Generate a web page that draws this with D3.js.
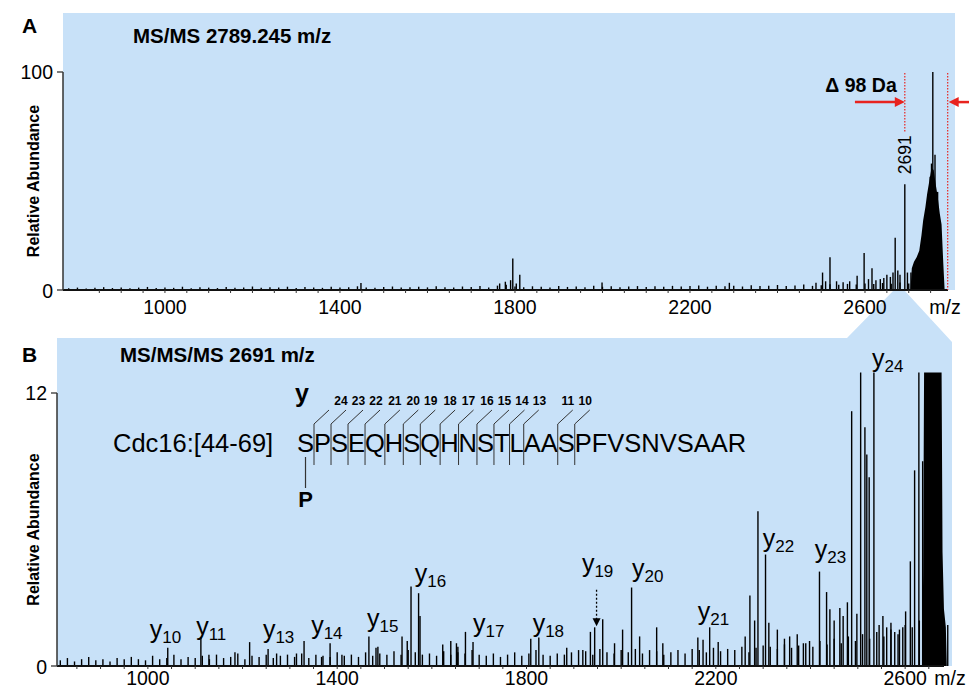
<!DOCTYPE html>
<html>
<head>
<meta charset="utf-8">
<script src="https://cdn.jsdelivr.net/npm/d3@7"></script>
<style>
  body { margin: 0; background: #fff; }
  svg { display: block; font-family: "Liberation Sans", Arial, sans-serif; }
</style>
</head>
<body>
<div id="chart"></div>
<script>
// ---- data ----
const tickLabelsA = [1000, 1400, 1800, 2200, 2600];
const tickLabelsB = [1000, 1400, 1800, 2200, 2600];

// panel A: MS/MS of 2789.245 (m/z, relative abundance %)
const noiseStartA = 780, noiseStepA = 20;
const noiseA = [
  0.8,1.1,0.7,1.0,1.3,0.9,1.2,0.8,1.1,1.4,
  0.9,1.2,1.0,1.5,0.8,1.3,1.1,0.9,1.4,1.0,
  1.2,1.6,1.0,1.3,1.1,1.5,0.9,1.4,1.2,1.0,
  1.5,1.1,1.3,1.7,1.2,1.0,1.4,1.6,1.1,1.3,
  1.5,1.2,1.7,1.3,1.1,1.6,1.4,1.8,1.2,2.0,
  2.4,1.6,1.3,1.7,1.5,1.2,1.8,1.4,1.6,1.3,
  1.9,1.5,1.7,1.3,1.6,1.8,1.4,1.7,1.5,1.9,
  1.6,1.8,2.1,1.5,1.9,1.7,2.0,1.6,2.2,1.8,
  2.0,2.3,1.8,2.1,2.5,1.9,2.2,2.6,2.4,2.8,
  2.5,3.0,2.7,3.2,2.9,3.4,3.0
];
const peaksA = [
  [1448,3.2],[1765,3],[1778,3.8],[1790,4.5],[1795,14.5],[1803,3],[1811,7],[1999,3.4],
  [2290,3.3],[2488,3.3],[2503,8],[2510,4],[2520,15],[2535,4],[2550,3.5],[2565,4],
  [2582,6.5],[2598,17],[2608,5],[2616,10],[2625,4.5],[2635,5],[2643,5.5],[2650,7],
  [2658,6],[2664,8],[2669,24],[2675,9],[2680,7],[2691,48.5],[2697,8],[2705,8],
  [2749,52],[2752,58],[2755,100],[2760,62],[2766,45]
];
const humpA = [
  [2704,0],[2707,10],[2712,13],[2718,15],[2724,18],[2729,25],[2733,32],[2738,38],
  [2742,44],[2747,50],[2752,56],[2757,55],[2762,48],[2766,43],[2771,35],[2775,30],
  [2779,12],[2782,0]
];

// panel B: MS/MS/MS of 2691 (m/z, relative abundance)
const noiseStartB = 815, noiseStepB = 15;
const noiseB = [
  0.25,0.35,0.2,0.3,0.4,0.25,0.3,0.2,0.35,0.3,
  0.4,0.3,0.25,0.45,0.3,0.35,0.5,0.3,0.4,0.35,
  0.45,0.3,0.5,0.35,0.4,0.55,0.3,0.45,0.4,0.5,
  0.35,0.45,0.5,0.4,0.55,0.35,0.5,0.45,0.4,0.6,
  0.45,0.5,0.4,0.6,0.45,0.55,0.5,0.65,0.5,0.7,
  0.6,0.5,0.55,0.45,0.65,0.5,0.6,0.55,0.7,0.5,
  0.45,0.55,0.4,0.5,0.6,0.45,0.55,0.7,0.5,0.45,
  0.55,0.5,0.6,0.7,0.65,0.5,0.75,0.6,0.55,0.7,
  0.6,0.75,0.55,0.7,0.65,0.5,0.6,0.7,0.55,0.75,
  0.7,0.6,0.8,0.65,0.75,0.7,0.85,0.6,0.8,0.9,
  0.85,0.75,0.95,0.8,0.9,1.0,0.85,1.1,0.95,1.2,
  1.0,1.3,1.1,1.4,1.2,1.5,1.3,1.6,1.4,1.8,
  1.7,2.0,1.9,2.2,2.0,1.8
];
const peaksB = [
  [1042,0.8],[1112,1.27],[1129,0.5],[1184,0.6],[1215,1.05],[1254,0.75],[1272,0.55],
  [1314,0.55],[1330,1.1],[1367,0.4],[1385,1.0],[1410,0.5],[1467,1.3],[1482,0.8],
  [1486,0.85],[1537,1.3],[1548,1.1],[1556,3.5],[1572,3.2],[1575,2.2],[1623,0.95],
  [1640,1.1],[1652,1.0],[1655,0.85],[1671,1.5],[1687,1.05],[1809,1.2],[1826,1.25],
  [1885,0.8],[1919,0.7],[1935,1.5],[1944,1.7],[1961,2.05],[1986,1.0],[2003,1.6],
  [2022,3.45],[2039,1.3],[2075,1.7],[2088,1.0],[2162,1.25],[2173,1.15],[2187,1.7],
  [2205,1.05],[2262,1.3],[2272,3.1],[2282,2.0],[2289,6.8],[2305,4.9],[2312,1.9],
  [2330,1.6],[2345,1.2],[2356,1.3],[2372,1.4],[2385,1.0],[2398,1.1],[2419,4.15],
  [2434,3.25],[2441,2.5],[2450,2.0],[2462,2.55],[2469,2.2],[2478,2.8],[2487,11.2],
  [2498,2.3],[2506,12.9],[2515,10.5],[2519,9.3],[2524,8.3],[2534,12.9],[2545,1.8],
  [2553,2.2],[2561,1.7],[2570,1.9],[2578,1.5],[2588,1.6],[2595,1.7],[2601,2.4],
  [2611,4.6],[2620,8.6],[2629,12.9],[2637,9]
];
const blockB = [[2636,0],[2638,4],[2640,12.9],[2677,12.9],[2679,5],[2682,2.5],[2686,1.7],[2688,0]];

// y-ion labels: [number, m/z of label start, abundance of label baseline]
const ionLabels = [
  ["10",1004,1.23],["11",1102,1.36],["13",1243,1.23],["14",1345,1.41],["15",1463,1.71],
  ["16",1564,3.69],["17",1687,1.49],["18",1813,1.49],["19",1917,4.13],["20",2023,3.91],
  ["21",2162,2.02],["22",2299,5.23],["23",2409,4.75],["24",2530,13.14]
];

const peptide = "SPSEQHSQHNSTLAASPFVSNVSAAR";
const fragIons = [24,23,22,21,20,19,18,17,16,15,14,13,11,10];
const bondMarks = [25,24,23,22,21,20,19,18,17,16,15,14,13,11,10];

// ---- drawing ----
const blue = "#c8e1f8";
const red = "#e8231f";
const svg = d3.select("#chart").append("svg").attr("width", 969).attr("height", 690);

const xA = d3.scaleLinear().domain([767, 2808]).range([63, 956]);
const yA = d3.scaleLinear().domain([0, 100]).range([290, 72]);
const xB = d3.scaleLinear().domain([808, 2699]).range([57, 952]);
const yB = d3.scaleLinear().domain([0, 12]).range([666, 393]);

// backgrounds
svg.append("rect").attr("x", 63).attr("y", 13).attr("width", 892).attr("height", 277).attr("fill", blue);
svg.append("polygon")
  .attr("points", [[57,338],[847,338],[893,291],[905,291],[952,342],[952,666],[57,666]].join(" "))
  .attr("fill", blue);

function spectrum(g, x, y, noiseStart, noiseStep, noise, peaks) {
  const sticks = noise.map((v, i) => [noiseStart + i * noiseStep, v]).concat(peaks);
  g.selectAll("line.pk").data(sticks).join("line")
    .attr("class", "pk")
    .attr("x1", d => x(d[0])).attr("x2", d => x(d[0]))
    .attr("y1", y(0)).attr("y2", d => y(d[1]))
    .attr("stroke", "#000").attr("stroke-width", 1.4);
}

function axes(g, x, y, ticks, yTop, yTopLabel, labelY, mzX) {
  const y0 = y(0);
  g.append("line").attr("x1", x.range()[0]).attr("x2", x.range()[1] - 8)
    .attr("y1", y0).attr("y2", y0).attr("stroke", "#111").attr("stroke-width", 2.2);
  g.append("line").attr("x1", x.range()[0]).attr("x2", x.range()[0])
    .attr("y1", y(yTop)).attr("y2", y0).attr("stroke", "#333").attr("stroke-width", 1.5);
  [0, yTop].forEach(v => {
    g.append("line").attr("x1", x.range()[0] - 6).attr("x2", x.range()[0])
      .attr("y1", y(v)).attr("y2", y(v)).attr("stroke", "#333").attr("stroke-width", 1.3);
  });
  g.append("text").attr("x", x.range()[0] - 10).attr("y", y(yTop) + 7)
    .attr("text-anchor", "end").attr("font-size", 19.5).text(yTopLabel);
  g.append("text").attr("x", x.range()[0] - 10).attr("y", y0 + 8)
    .attr("text-anchor", "end").attr("font-size", 19.5).text("0");
  const minor = d3.range(850, x.domain()[1] - 20, 50);
  g.selectAll("line.mt").data(minor).join("line").attr("class", "mt")
    .attr("x1", d => x(d)).attr("x2", d => x(d))
    .attr("y1", y0).attr("y2", y0 + 3).attr("stroke", "#333").attr("stroke-width", 1);
  g.selectAll("text.tl").data(ticks).join("text").attr("class", "tl")
    .attr("x", d => x(d)).attr("y", labelY).attr("text-anchor", "middle")
    .attr("font-size", 19.5).text(d => d);
  g.append("text").attr("x", mzX).attr("y", labelY).attr("text-anchor", "middle")
    .attr("font-size", 19.5).text("m/z");
  g.append("text")
    .attr("transform", `translate(39,${(y(yTop) + y0) / 2}) rotate(-90)`)
    .attr("text-anchor", "middle").attr("font-size", 16).attr("font-weight", "bold")
    .text("Relative Abundance");
}

// ---- panel A ----
const gA = svg.append("g");
gA.append("path").datum(humpA)
  .attr("d", d3.area().x(d => xA(d[0])).y0(yA(0)).y1(d => yA(d[1])))
  .attr("fill", "#000");
spectrum(gA, xA, yA, noiseStartA, noiseStepA, noiseA, peaksA);
axes(gA, xA, yA, tickLabelsA, 100, "100", 314, 945);

gA.append("text").attr("x", 22).attr("y", 33).attr("font-size", 21).attr("font-weight", "bold").text("A");
gA.append("text").attr("x", 133).attr("y", 43).attr("font-size", 20.5).attr("font-weight", "bold")
  .text("MS/MS 2789.245 m/z");

// dotted markers and the 98 Da arrows
const x2691 = xA(2691), xPrec = xA(2789);
gA.append("line").attr("x1", x2691).attr("x2", x2691).attr("y1", yA(99.5)).attr("y2", yA(72))
  .attr("stroke", red).attr("stroke-width", 1.2).attr("stroke-dasharray", "1.5,1.5");
gA.append("line").attr("x1", xPrec).attr("x2", xPrec).attr("y1", yA(99.5)).attr("y2", yA(0))
  .attr("stroke", red).attr("stroke-width", 1.2).attr("stroke-dasharray", "1.5,1.5");
gA.append("text")
  .attr("transform", `translate(${x2691 + 6},${yA(62)}) rotate(-90)`)
  .attr("text-anchor", "middle").attr("font-size", 17.5).text("2691");
gA.append("text").attr("x", x2691 - 8).attr("y", yA(91)).attr("text-anchor", "end")
  .attr("font-size", 19.5).attr("font-weight", "bold").text("\u0394 98 Da");

const arrowY = yA(86.2);
gA.append("line").attr("x1", xA(2577)).attr("x2", x2691 - 8).attr("y1", arrowY).attr("y2", arrowY)
  .attr("stroke", red).attr("stroke-width", 2.5);
gA.append("path").attr("d", `M${x2691},${arrowY} l-10,-5 l0,10 z`).attr("fill", red);
gA.append("line").attr("x1", 969).attr("x2", xPrec + 8).attr("y1", arrowY).attr("y2", arrowY)
  .attr("stroke", red).attr("stroke-width", 2.5);
gA.append("path").attr("d", `M${xPrec + 1},${arrowY} l10,-5 l0,10 z`).attr("fill", red);

// ---- panel B ----
const gB = svg.append("g");
gB.append("path").datum(blockB)
  .attr("d", d3.area().x(d => xB(d[0])).y0(yB(0)).y1(d => yB(d[1])))
  .attr("fill", "#000");
spectrum(gB, xB, yB, noiseStartB, noiseStepB, noiseB, peaksB);
axes(gB, xB, yB, tickLabelsB, 12, "12", 685, 950);

gB.append("text").attr("x", 22).attr("y", 362).attr("font-size", 21).attr("font-weight", "bold").text("B");
gB.append("text").attr("x", 120).attr("y", 362).attr("font-size", 20.5).attr("font-weight", "bold")
  .text("MS/MS/MS 2691 m/z");

// y-ion labels
ionLabels.forEach(([n, mz, v]) => {
  const t = gB.append("text").attr("x", xB(mz)).attr("y", yB(v)).attr("font-size", 25);
  t.append("tspan").text("y");
  t.append("tspan").attr("dy", 5).attr("font-size", 17).text(n);
});
// dotted arrow to y19
const xy19 = xB(1948);
gB.append("line").attr("x1", xy19).attr("x2", xy19).attr("y1", yB(3.35)).attr("y2", yB(1.9))
  .attr("stroke", "#000").attr("stroke-width", 1.3).attr("stroke-dasharray", "2,2");
gB.append("path").attr("d", `M${xy19},${yB(1.75)} l-4,-8 l8,0 z`).attr("fill", "#000");

// peptide sequence annotation
gB.append("text").attr("x", 113).attr("y", 452).attr("font-size", 25.5).text("Cdc16:[44-69]");
const seq = gB.append("text").attr("x", 297).attr("y", 452).attr("font-size", 25.5).text(peptide);
const seqNode = seq.node();
const bondX = n => seqNode.getStartPositionOfChar(peptide.length - n).x;

bondMarks.forEach(n => {
  const bx = bondX(n);
  gB.append("line").attr("x1", bx).attr("x2", bx).attr("y1", 424).attr("y2", 465)
    .attr("stroke", "#333").attr("stroke-width", 1);
  gB.append("line").attr("x1", bx).attr("x2", bx + 15).attr("y1", 424).attr("y2", 410)
    .attr("stroke", "#333").attr("stroke-width", 1);
});
// ion numbers, pushed apart so neighbours never collide
let lastX = -Infinity;
fragIons.forEach(n => {
  const nx = Math.max(bondX(n) + 10, lastX + 17.5);
  lastX = nx;
  gB.append("text").attr("x", nx).attr("y", 405).attr("text-anchor", "middle")
    .attr("font-size", 12).attr("font-weight", "bold").text(n);
});
gB.append("text").attr("x", 302).attr("y", 402).attr("text-anchor", "middle")
  .attr("font-size", 25).attr("font-weight", "bold").text("y");

// phospho site marker under the first serine
const s0 = seqNode.getStartPositionOfChar(0).x + seqNode.getExtentOfChar(0).width / 2;
gB.append("line").attr("x1", s0).attr("x2", s0).attr("y1", 457).attr("y2", 488)
  .attr("stroke", "#333").attr("stroke-width", 1.2);
gB.append("text").attr("x", s0).attr("y", 507).attr("text-anchor", "middle")
  .attr("font-size", 22).attr("font-weight", "bold").text("P");
</script>
</body>
</html>
